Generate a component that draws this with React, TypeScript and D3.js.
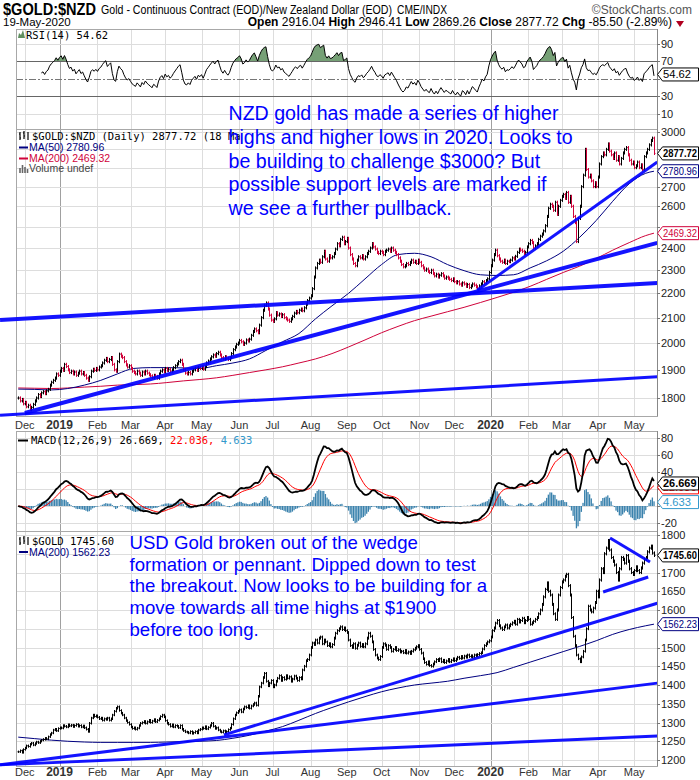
import React from "react";
import * as d3 from "d3";

// ---------- DATA ----------
const START_YEAR = 2018;
const START_MONTH = 10; // November (0-based)
const START_DAY = 27;

// $GOLD:$NZD daily closes (weekdays from 27-Nov-2018 to 19-May-2020)
const NZD_CLOSE = [
  1800, 1790, 1795, 1780, 1785, 1770, 1775, 1760, 1768, 1778,
  1790, 1800, 1812, 1805, 1818, 1822, 1815, 1825, 1830, 1845,
  1855, 1862, 1870, 1885, 1880, 1895, 1905, 1898, 1920, 1912,
  1900, 1890, 1895, 1885, 1892, 1880, 1888, 1895, 1885, 1890,
  1880, 1870, 1862, 1875, 1895, 1902, 1898, 1905, 1900, 1910,
  1915, 1925, 1935, 1942, 1930, 1938, 1945, 1920, 1900, 1895,
  1930, 1958, 1950, 1945, 1930, 1918, 1910, 1915, 1905, 1895,
  1890, 1885, 1895, 1888, 1880, 1892, 1885, 1895, 1888, 1882,
  1878, 1872, 1880, 1876, 1870, 1885, 1895, 1900, 1892, 1905,
  1898, 1902, 1895, 1900, 1908, 1915, 1922, 1930, 1935, 1920,
  1900, 1888, 1885, 1890, 1885, 1895, 1900, 1905, 1898, 1908,
  1905, 1910, 1902, 1912, 1925, 1932, 1940, 1948, 1955, 1950,
  1960, 1965, 1955, 1945, 1940, 1948, 1942, 1938, 1945, 1960,
  1975, 1985, 1995, 2000, 2010, 2005, 1995, 2000, 2012, 2008,
  2015, 2030, 2045, 2055, 2048, 2040, 2070, 2100, 2130, 2150,
  2160, 2135, 2110, 2090, 2085, 2095, 2120, 2110, 2115, 2105,
  2112, 2100, 2095, 2090, 2085, 2095, 2105, 2118, 2125, 2120,
  2130, 2135, 2128, 2140, 2155, 2170, 2180, 2190, 2220, 2270,
  2310, 2330, 2345, 2335, 2360, 2385, 2350, 2340, 2365, 2355,
  2360, 2375, 2395, 2420, 2410, 2440, 2450, 2420, 2430, 2445,
  2400, 2370, 2350, 2330, 2320, 2345, 2360, 2355, 2365, 2350,
  2360, 2375, 2385, 2400, 2420, 2405, 2395, 2380, 2375, 2385,
  2380, 2370, 2385, 2390, 2395, 2385, 2400, 2390, 2380, 2370,
  2355, 2340, 2325, 2315, 2320, 2330, 2325, 2335, 2345, 2335,
  2340, 2330, 2345, 2335, 2320, 2310, 2300, 2305, 2295, 2290,
  2300, 2285, 2275, 2282, 2270, 2278, 2285, 2275, 2265, 2270,
  2265, 2260, 2255, 2262, 2250, 2245, 2250, 2240, 2235, 2245,
  2240, 2230, 2238, 2225, 2232, 2240, 2235, 2228, 2222, 2232,
  2240, 2250, 2245, 2255, 2262, 2290, 2320, 2345, 2370, 2390,
  2365, 2350, 2340, 2335, 2345, 2330, 2340, 2338, 2345, 2355,
  2350, 2362, 2380, 2395, 2390, 2385, 2375, 2380, 2405, 2420,
  2435, 2425, 2400, 2410, 2420, 2440, 2455, 2465, 2480, 2505,
  2550, 2590, 2610, 2600, 2580, 2620, 2560, 2600, 2630, 2650,
  2660, 2640, 2670, 2620, 2650, 2600, 2550, 2520, 2430, 2540,
  2600, 2700, 2760, 2900, 2790, 2750, 2760, 2730, 2700, 2720,
  2700, 2750, 2820, 2860, 2880, 2870, 2900, 2930, 2890, 2870,
  2850, 2880, 2840, 2860, 2820, 2850, 2880, 2900, 2910, 2870,
  2840, 2820, 2830, 2800, 2810, 2830, 2800, 2815, 2790, 2860,
  2880, 2900, 2925, 2950, 2963.22, 2877.72,
];

// $GOLD (USD) daily closes, same dates
const USD_CLOSE = [
  1222, 1225, 1220, 1228, 1232, 1238, 1236, 1242, 1245, 1240,
  1244, 1248, 1246, 1250, 1253, 1255, 1258, 1256, 1262, 1268,
  1272, 1280, 1282, 1278, 1284, 1286, 1285, 1292, 1290, 1288,
  1294, 1291, 1293, 1289, 1292, 1295, 1290, 1292, 1288, 1291,
  1286, 1282, 1276, 1298, 1312, 1320, 1316, 1318, 1314, 1310,
  1312, 1306, 1310, 1308, 1312, 1306, 1310, 1320, 1330, 1338,
  1342, 1332, 1325, 1320, 1312, 1305, 1300, 1295, 1288, 1284,
  1286, 1282, 1285, 1292, 1298, 1300, 1303, 1298, 1302, 1306,
  1300, 1304, 1308, 1302, 1306, 1310, 1316, 1320, 1315, 1305,
  1298, 1295, 1290, 1294, 1288, 1292, 1290, 1286, 1292, 1282,
  1278, 1275, 1274, 1272, 1276, 1271, 1273, 1276, 1272, 1280,
  1282, 1286, 1284, 1289, 1283, 1287, 1292, 1298, 1290, 1284,
  1286, 1280, 1276, 1274, 1278, 1272, 1276, 1281, 1285, 1295,
  1310, 1320, 1326, 1330, 1334, 1328, 1336, 1342, 1340, 1345,
  1338, 1344, 1348, 1352, 1346, 1370, 1395, 1405, 1420, 1431,
  1410, 1398, 1405, 1412, 1395, 1400, 1410, 1418, 1425, 1412,
  1420, 1415, 1425, 1418, 1422, 1410, 1416, 1424, 1418, 1412,
  1420, 1416, 1440, 1450, 1465, 1468, 1480, 1500, 1512, 1508,
  1520, 1512, 1525, 1528, 1510, 1520, 1515, 1505, 1510, 1502,
  1508, 1525, 1538, 1545, 1550, 1555, 1548, 1552, 1545, 1540,
  1520, 1505, 1500, 1510, 1498, 1506, 1512, 1503, 1508, 1502,
  1510, 1525, 1538, 1530, 1515, 1495, 1480, 1472, 1468, 1476,
  1500, 1510, 1506, 1495, 1505, 1500, 1490, 1495, 1500, 1492,
  1494, 1488, 1490, 1486, 1492, 1485, 1488, 1484, 1490, 1494,
  1498, 1502, 1505, 1495, 1485, 1470, 1460, 1455, 1462, 1452,
  1450, 1456, 1462, 1468, 1465, 1470, 1462, 1466, 1460, 1464,
  1468, 1462, 1466, 1470, 1465, 1469, 1474, 1471, 1476, 1472,
  1477, 1474, 1480, 1476, 1478, 1475, 1480, 1478, 1481, 1484,
  1486, 1496, 1505, 1510, 1515, 1518, 1528, 1545, 1552, 1565,
  1572, 1558, 1552, 1548, 1555, 1560, 1552, 1558, 1562, 1566,
  1570, 1562, 1575, 1568, 1572, 1578, 1566, 1572, 1580, 1575,
  1562, 1566, 1570, 1575, 1580, 1590, 1600, 1615, 1635, 1655,
  1672, 1650, 1640, 1615, 1590, 1575, 1600, 1640, 1660, 1675,
  1680, 1690, 1695, 1665, 1640, 1580, 1530, 1505, 1480, 1470,
  1462, 1475, 1490, 1520, 1550, 1610, 1600, 1595, 1605, 1620,
  1650, 1635, 1680, 1710, 1700, 1750, 1765, 1785, 1760, 1740,
  1730, 1720, 1700, 1680, 1710, 1740, 1735, 1725, 1745, 1730,
  1710, 1700, 1695, 1705, 1715, 1705, 1700, 1712, 1725, 1735,
  1740, 1755, 1765, 1770, 1752, 1745.6,
];

// Moving averages at these day indices
const MA_SAMPLE_IDX = [
  0, 10, 20, 30, 40, 50, 60, 70, 80, 90, 100, 110, 120, 130, 140, 150, 160, 170, 180, 190,
  200, 210, 220, 230, 240, 250, 260, 270, 280, 290, 300, 310, 320, 330, 340, 350, 360, 370, 380, 385,
];
const NZD_MA50 = [
  1831, 1830, 1828, 1833, 1845, 1862, 1885, 1905, 1908, 1908, 1907, 1905, 1915, 1925, 1940, 1972, 2005, 2037, 2095, 2148,
  2200, 2262, 2325, 2370, 2376, 2360, 2325, 2298, 2280, 2277, 2280, 2310, 2342, 2385, 2450, 2530, 2625, 2715, 2770, 2780.96,
];
const NZD_MA200 = [
  1835, 1834, 1833, 1835, 1838, 1841, 1845, 1847, 1849, 1854, 1860, 1865, 1871, 1880, 1890, 1900, 1911, 1925, 1940, 1960,
  1985, 2012, 2040, 2065, 2088, 2106, 2124, 2142, 2162, 2183, 2205, 2230, 2260, 2290, 2318, 2352, 2390, 2425, 2458, 2469.32,
];
const USD_MA200 = [
  1261, 1257, 1253, 1250, 1248, 1247, 1247, 1247, 1247, 1248, 1249, 1250, 1252, 1258, 1266, 1277, 1289, 1306, 1324, 1340,
  1355, 1369, 1382, 1392, 1400, 1405, 1410, 1418, 1425, 1433, 1447, 1461, 1475, 1489, 1503, 1518, 1535, 1548, 1558, 1562.23,
];

// Hand-drawn trend lines: [dayIndex, price] start and end
const NZD_TREND_START = [[-11, 2091], [4, 1749], [278, 2213], [-11, 1741]];
const NZD_TREND_END = [[387, 2244], [387, 2424], [387, 2831], [387, 1875]];
const USD_TREND_START = [[358.4, 1792], [354.2, 1648], [124.6, 1267], [-11, 1187], [-11, 1187]];
const USD_TREND_END = [[382.6, 1728], [381.5, 1688], [387, 1618], [387, 1405], [387, 1264]];

// Axis ticks
const RSI_TICKS = [10, 30, 50, 70, 90];
const NZD_TICKS = [1800, 1900, 2000, 2100, 2200, 2300, 2400, 2500, 2600, 2700, 2800, 2900, 3000];
const MACD_TICKS = [-20, 0, 20, 40, 60, 80];
const USD_TICKS = [1200, 1250, 1300, 1350, 1400, 1450, 1500, 1550, 1600, 1650, 1700, 1750, 1800];

// Last values shown in the legends / right-hand boxes
const RSI_LAST = 54.62;
const NZD_LAST = 2877.72;
const MA50_LAST = 2780.96;
const MA200_LAST = 2469.32;
const MACD_LAST = 26.669;
const SIGNAL_LAST = 22.036;
const HIST_LAST = 4.633;
const USD_LAST = 1745.6;
const USD_MA_LAST = 1562.23;

const HEADER_STATS = [
  ["Open", "2916.04"],
  ["High", "2946.41"],
  ["Low", "2869.26"],
  ["Close", "2877.72"],
  ["Chg", "-85.50 (-2.89%)"],
];

const NZD_NOTE = [
  "NZD gold has made a series of higher",
  "highs and higher lows in 2020. Looks to",
  "be building to challenge $3000? But",
  "possible support levels are marked if",
  "we see a further pullback.",
];
const USD_NOTE = [
  "USD Gold broken out of the wedge",
  "formation or pennant. Dipped down to test",
  "the breakout. Now looks to be building for a",
  "move towards all time highs at $1900",
  "before too long.",
];

// ---------- LAYOUT / STYLE ----------
const W = 700;
const H = 780;
const X0 = 16;
const X1 = 657;
const RSI_T = 29, RSI_B = 129;
const MAIN_T = 129, MAIN_B = 416;
const MACD_T = 431, MACD_B = 531;
const USD_T = 531, USD_B = 766;
const SANS = "'Liberation Sans', Arial, sans-serif";
const MONO = "'DejaVu Sans Mono', monospace";
const BLUE = "#0000ff";
const RED = "#d0023a";
const NAVY = "#000080";
const GRID = "#dddddd";
const FRAME = "#a8a8a8";
const NZD_TREND_W = [4, 4, 3, 3];
const USD_TREND_W = [3, 3, 3, 3, 3];

export default function App() {
  const N = NZD_CLOSE.length;

  const dates: Date[] = [];
  const cur = new Date(START_YEAR, START_MONTH, START_DAY);
  while (dates.length < N) {
    const wd = cur.getDay();
    if (wd !== 0 && wd !== 6) dates.push(new Date(cur));
    cur.setDate(cur.getDate() + 1);
  }
  const monthStarts = dates
    .map((dt, i) => (i > 0 && dt.getMonth() !== dates[i - 1].getMonth() ? i : -1))
    .filter((i) => i >= 0);
  const jan19 = monthStarts.find((i) => dates[i].getFullYear() === 2019 && dates[i].getMonth() === 0) as number;
  const jan20 = monthStarts.find((i) => dates[i].getFullYear() === 2020 && dates[i].getMonth() === 0) as number;

  const xs = d3.scaleLinear().domain([jan19, jan20]).range([59.5, 490.5]);
  const yRSI = d3.scaleLinear().domain([10, 90]).range([113.5, 43.5]);
  const yMain = d3.scaleLog().domain([1800, 3000]).range([398, 131.7]);
  const yMACD = d3.scaleLinear().domain([-20, 80]).range([522.9, 438.4]);
  const yUSD = d3.scaleLinear().domain([1200, 1800]).range([760, 535]);

  // RSI(14) from closes
  const rsi: [number, number][] = [];
  let ag = 0, al = 0;
  for (let i = 1; i < N; i++) {
    const ch = NZD_CLOSE[i] - NZD_CLOSE[i - 1];
    const g = Math.max(ch, 0), l = Math.max(-ch, 0);
    if (i <= 14) { ag += g / 14; al += l / 14; }
    else { ag = (ag * 13 + g) / 14; al = (al * 13 + l) / 14; }
    if (i >= 14) rsi.push([i, al === 0 ? 100 : 100 - 100 / (1 + ag / al)]);
  }

  // MACD(12,26,9) from closes
  const macd: number[] = [], signal: number[] = [], hist: number[] = [];
  let e12 = NZD_CLOSE[0], e26 = NZD_CLOSE[0], sig = 0;
  NZD_CLOSE.forEach((c, i) => {
    if (i > 0) {
      e12 = c * (2 / 13) + e12 * (1 - 2 / 13);
      e26 = c * (2 / 27) + e26 * (1 - 2 / 27);
    }
    const m = e12 - e26;
    sig = i === 0 ? m : m * 0.2 + sig * 0.8;
    macd.push(m); signal.push(sig); hist.push(m - sig);
  });

  const barPaths = (closes: number[], ys: (v: number) => number, wick: number) => {
    let up = "", dn = "";
    closes.forEach((c, i) => {
      const o = i > 0 ? closes[i - 1] : c;
      const hi = Math.max(o, c) * (1 + wick);
      const lo = Math.min(o, c) * (1 - wick);
      const x = Math.round(xs(i)) + 0.5;
      const seg = `M${x},${ys(hi).toFixed(1)}V${ys(lo).toFixed(1)}M${x - 1},${ys(o).toFixed(1)}h1M${x},${ys(c).toFixed(1)}h1`;
      if (c >= o) up += seg; else dn += seg;
    });
    return [up, dn];
  };
  const [nzdUp, nzdDn] = barPaths(NZD_CLOSE, (v) => yMain(v), 0.003);
  const [usdUp, usdDn] = barPaths(USD_CLOSE, (v) => yUSD(v), 0.0025);

  const maLine = (vals: number[], ys: (v: number) => number) =>
    d3.line<number>().x((_, i) => xs(MA_SAMPLE_IDX[i])).y((v) => ys(v)).curve(d3.curveMonotoneX)(vals) || "";

  const rsiLine = d3.line<[number, number]>().x((d) => xs(d[0])).y((d) => yRSI(d[1]))(rsi) || "";
  const rsiAreaHi = d3.area<[number, number]>().x((d) => xs(d[0])).y0(yRSI(70)).y1((d) => yRSI(d[1]))(rsi) || "";
  const rsiAreaLo = d3.area<[number, number]>().x((d) => xs(d[0])).y0(yRSI(30)).y1((d) => yRSI(d[1]))(rsi) || "";
  const macdLine = d3.line<number>().x((_, i) => xs(i)).y((v) => yMACD(v))(macd) || "";
  const sigLine = d3.line<number>().x((_, i) => xs(i)).y((v) => yMACD(v))(signal) || "";

  const vGrid = (t: number, b: number) =>
    monthStarts.map((i) => {
      const x = Math.round(xs(i)) + 0.5;
      const isYear = dates[i].getMonth() === 0;
      return <line key={i} x1={x} x2={x} y1={t} y2={b} stroke={isYear ? "#a0a0a0" : GRID} strokeWidth={1} />;
    });

  const hGrid = (ticks: number[], ys: (v: number) => number, keyp: string) =>
    ticks.map((v) => {
      const y = Math.round(ys(v)) + 0.5;
      return <line key={keyp + v} x1={X0} x2={X1} y1={y} y2={y} stroke={GRID} />;
    });

  // tick labels hidden behind a value box are not drawn (as in the reference)
  const axisLabels = (ticks: number[], ys: (v: number) => number, boxes: number[], keyp: string) =>
    ticks.map((v) => {
      const y = ys(v);
      const hidden = boxes.some((b) => Math.abs(ys(b) - y) < 8);
      return (
        <g key={keyp + v}>
          <line x1={X1} x2={X1 + 3} y1={Math.round(y) + 0.5} y2={Math.round(y) + 0.5} stroke="#777" />
          {!hidden && <text x={661} y={y + 4} fontSize={11} fontFamily={SANS} fill="#222">{v}</text>}
        </g>
      );
    });

  const monthLabels = (y: number, keyp: string) =>
    monthStarts.map((i) => {
      const dt = dates[i];
      const isYear = dt.getMonth() === 0;
      return (
        <text key={keyp + i} x={xs(i)} y={y} textAnchor="middle" fontFamily={SANS}
          fontSize={isYear ? 12 : 11} fontWeight={isYear ? "bold" : "normal"} fill="#333">
          {isYear ? String(dt.getFullYear()) : d3.timeFormat("%b")(dt)}
        </text>
      );
    });

  const valueBox = (y: number, text: string, color: string, bold: boolean, key: string) => (
    <g key={key}>
      <path d={`M${X1 + 0.5},${y} L${X1 + 5.5},${y - 6.5} H698.5 V${y + 6.5} H${X1 + 5.5} Z`} fill="#fff" stroke={color} strokeWidth={1} />
      <text x={663} y={y + 4} fontSize={10.5} fontFamily={SANS} fontWeight={bold ? "bold" : "normal"} fill={color}
        textLength={text.length >= 7 ? 34 : text.length * 5.6} lengthAdjust="spacingAndGlyphs">{text}</text>
    </g>
  );

  const trend = (a: number[][], b: number[][], w: number[], ys: (v: number) => number, keyp: string) =>
    a.map((p, k) => (
      <line key={keyp + k} x1={xs(p[0])} y1={ys(p[1])} x2={xs(b[k][0])} y2={ys(b[k][1])}
        stroke={BLUE} strokeWidth={w[k]} strokeOpacity={0.92} />
    ));

  const histBars = hist.map((h, i) => {
    const y0 = yMACD(0), y1 = yMACD(h);
    return <rect key={"h" + i} x={xs(i) - 0.6} width={1.3} y={Math.min(y0, y1)} height={Math.abs(y1 - y0)} fill="#3a82ad" />;
  });

  return (
    <svg width={W} height={H} viewBox={`0 0 ${W} ${H}`} style={{ position: "absolute", left: 0, top: 0, background: "#fff" }}>
      <defs>
        <clipPath id="cRSI"><rect x={X0} y={RSI_T} width={X1 - X0} height={RSI_B - RSI_T} /></clipPath>
        <clipPath id="cRSIhi"><rect x={X0} y={RSI_T} width={X1 - X0} height={yRSI(70) - RSI_T} /></clipPath>
        <clipPath id="cRSIlo"><rect x={X0} y={yRSI(30)} width={X1 - X0} height={RSI_B - yRSI(30)} /></clipPath>
        <clipPath id="cMain"><rect x={X0} y={MAIN_T} width={X1 - X0} height={MAIN_B - MAIN_T} /></clipPath>
        <clipPath id="cMACD"><rect x={X0} y={MACD_T} width={X1 - X0} height={MACD_B - MACD_T} /></clipPath>
        <clipPath id="cUSD"><rect x={X0} y={USD_T} width={X1 - X0} height={USD_B - USD_T} /></clipPath>
      </defs>
      <rect x={0} y={0} width={W} height={H} fill="#fff" />

      {/* Header */}
      <text x={3} y={15} fontFamily={SANS} fontWeight="bold" fontSize={16} textLength={93} lengthAdjust="spacingAndGlyphs">$GOLD:$NZD</text>
      <text x={101} y={14} fontFamily={SANS} fontSize={12} textLength={291} lengthAdjust="spacingAndGlyphs">Gold - Continuous Contract (EOD)/New Zealand Dollar (EOD)</text>
      <text x={397} y={14} fontFamily={SANS} fontSize={12} textLength={50} lengthAdjust="spacingAndGlyphs">CME/INDX</text>
      <text x={692} y={14} textAnchor="end" fontFamily={SANS} fontSize={12} fill="#555">©StockCharts.com</text>
      <text x={3} y={26} fontFamily={SANS} fontSize={11.5}>19-May-2020</text>
      <text x={672} y={26} textAnchor="end" fontFamily={SANS} fontSize={12}>
        {HEADER_STATS.map(([k, v], i) => (
          <React.Fragment key={k}>
            <tspan fontWeight="bold">{(i > 0 ? " " : "") + k}</tspan>
            <tspan>{" " + v}</tspan>
          </React.Fragment>
        ))}
      </text>
      <path d="M676,21 L684,21 L680,27 Z" fill="#b00020" />

      {/* ---------- RSI panel ---------- */}
      {vGrid(RSI_T, RSI_B)}
      {[90, 10].map((v) => (
        <line key={"rg" + v} x1={X0} x2={X1} y1={Math.round(yRSI(v)) + 0.5} y2={Math.round(yRSI(v)) + 0.5} stroke={GRID} />
      ))}
      {[70, 30].map((v) => (
        <line key={"rl" + v} x1={X0} x2={X1} y1={Math.round(yRSI(v)) + 0.5} y2={Math.round(yRSI(v)) + 0.5} stroke="#666" />
      ))}
      <line x1={X0} x2={X1} y1={Math.round(yRSI(50)) + 0.5} y2={Math.round(yRSI(50)) + 0.5} stroke="#777" strokeDasharray="7,2,2,2" />
      <g clipPath="url(#cRSIhi)"><path d={rsiAreaHi} fill="#76a076" /></g>
      <g clipPath="url(#cRSIlo)"><path d={rsiAreaLo} fill="#76a076" /></g>
      <g clipPath="url(#cRSI)"><path d={rsiLine} fill="none" stroke="#000" strokeWidth={1} /></g>
      <rect x={X0 + 0.5} y={RSI_T + 0.5} width={X1 - X0} height={RSI_B - RSI_T} fill="none" stroke={FRAME} />
      <path d="M18,38 L19,33 L21,35 L23,30 L25,38 Z" fill="#5f8f5f" />
      <text x={26} y={39} fontFamily={MONO} fontSize={10.5}>RSI(14) {RSI_LAST.toFixed(2)}</text>

      {/* ---------- Main NZD panel ---------- */}
      {vGrid(MAIN_T, MAIN_B)}
      {hGrid(NZD_TICKS, yMain, "mg")}
      <g clipPath="url(#cMain)">
        <path d={maLine(NZD_MA200, yMain)} fill="none" stroke={RED} strokeWidth={1} />
        <path d={maLine(NZD_MA50, yMain)} fill="none" stroke={NAVY} strokeWidth={1} />
        <path d={nzdUp} fill="none" stroke="#000" strokeWidth={1} />
        <path d={nzdDn} fill="none" stroke={RED} strokeWidth={1} />
      </g>
      <rect x={X0 + 0.5} y={MAIN_T + 0.5} width={X1 - X0} height={MAIN_B - MAIN_T} fill="none" stroke={FRAME} />
      {trend(NZD_TREND_START, NZD_TREND_END, NZD_TREND_W, yMain, "nt")}
      <path d="M20,132 V140 M19,134 H20 M20,138 H21 M24,131 V139 M23,133 H24 M24,136 H25 M28,132 V140" stroke="#000" strokeWidth={1.2} fill="none" />
      <text x={32} y={140} fontFamily={MONO} fontSize={10.5}>$GOLD:$NZD (Daily) {NZD_LAST.toFixed(2)} (18 Ma</text>
      <line x1={19} x2={28} y1={147.5} y2={147.5} stroke={NAVY} strokeWidth={2} />
      <text x={29} y={151} fontFamily={SANS} fontSize={10.5} fill={NAVY}>MA(50) {MA50_LAST.toFixed(2)}</text>
      <line x1={19} x2={28} y1={158.5} y2={158.5} stroke={RED} strokeWidth={2} />
      <text x={29} y={162} fontFamily={SANS} fontSize={10.5} fill={RED}>MA(200) {MA200_LAST.toFixed(2)}</text>
      <path d="M20,173 V168 M22.5,173 V165 M25,173 V167 M27.5,173 V169" stroke="#666" strokeWidth={1.6} />
      <text x={29} y={172} fontFamily={SANS} fontSize={10.5} fill="#444">Volume undef</text>
      {NZD_NOTE.map((t, i) => (
        <text key={"nn" + i} x={228.5} y={120 + i * 23.8} fontFamily={SANS} fontSize={19.6} fill={BLUE}>{t}</text>
      ))}
      {monthLabels(429, "ml")}

      {/* ---------- MACD panel ---------- */}
      {vGrid(MACD_T, MACD_B)}
      {hGrid(MACD_TICKS, yMACD, "cg")}
      <g clipPath="url(#cMACD)">
        {histBars}
        <path d={sigLine} fill="none" stroke="#ff0000" strokeWidth={1} />
        <path d={macdLine} fill="none" stroke="#000" strokeWidth={1.8} />
      </g>
      <rect x={X0 + 0.5} y={MACD_T + 0.5} width={X1 - X0} height={MACD_B - MACD_T} fill="none" stroke={FRAME} />
      <line x1={18} x2={28} y1={440.5} y2={440.5} stroke="#000" strokeWidth={2} />
      <text x={31} y={444} fontFamily={MONO} fontSize={10.5}>
        <tspan>MACD(12,26,9) {MACD_LAST.toFixed(3)},</tspan>
        <tspan fill="#ff0000"> {SIGNAL_LAST.toFixed(3)},</tspan>
        <tspan fill="#3399cc"> {HIST_LAST.toFixed(3)}</tspan>
      </text>

      {/* ---------- USD panel ---------- */}
      {vGrid(USD_T, USD_B)}
      {hGrid(USD_TICKS, yUSD, "ug")}
      <g clipPath="url(#cUSD)">
        <path d={maLine(USD_MA200, yUSD)} fill="none" stroke={NAVY} strokeWidth={1} />
        <path d={usdUp} fill="none" stroke="#000" strokeWidth={1} />
        <path d={usdDn} fill="none" stroke="#000" strokeWidth={1} />
      </g>
      <rect x={X0 + 0.5} y={USD_T + 0.5} width={X1 - X0} height={USD_B - USD_T} fill="none" stroke={FRAME} />
      {trend(USD_TREND_START, USD_TREND_END, USD_TREND_W, yUSD, "ut")}
      <path d="M20,537 V545 M19,539 H20 M20,543 H21 M24,536 V544 M23,538 H24 M24,541 H25 M28,537 V545" stroke="#000" strokeWidth={1.2} fill="none" />
      <text x={32} y={545} fontFamily={MONO} fontSize={10.5}>$GOLD {USD_LAST.toFixed(2)}</text>
      <line x1={19} x2={28} y1={552} y2={552} stroke={NAVY} strokeWidth={2} />
      <text x={29} y={556} fontFamily={SANS} fontSize={10.5} fill={NAVY}>MA(200) {USD_MA_LAST.toFixed(2)}</text>
      {USD_NOTE.map((t, i) => (
        <text key={"un" + i} x={129.5} y={549 + i * 21.7} fontFamily={SANS} fontSize={18.6} fill={BLUE}>{t}</text>
      ))}
      {monthLabels(776, "bl")}

      {/* Right axes */}
      <line x1={X1 + 0.5} x2={X1 + 0.5} y1={RSI_T} y2={MAIN_B} stroke="#888" />
      <line x1={X1 + 0.5} x2={X1 + 0.5} y1={MACD_T} y2={USD_B} stroke="#888" />
      {axisLabels(RSI_TICKS, yRSI, [RSI_LAST], "ra")}
      {axisLabels(NZD_TICKS, yMain, [NZD_LAST, MA50_LAST, MA200_LAST], "ma")}
      {axisLabels(MACD_TICKS, yMACD, [MACD_LAST, SIGNAL_LAST, HIST_LAST], "ca")}
      {axisLabels(USD_TICKS, yUSD, [USD_LAST, USD_MA_LAST], "ua")}

      {/* Value boxes */}
      {valueBox(yRSI(RSI_LAST), RSI_LAST.toFixed(2), "#000", false, "vb1")}
      {valueBox(yMain(MA200_LAST), MA200_LAST.toFixed(2), RED, false, "vb2")}
      {valueBox(yMain(MA50_LAST), MA50_LAST.toFixed(2), NAVY, false, "vb3")}
      {valueBox(yMain(NZD_LAST), NZD_LAST.toFixed(2), "#000", true, "vb4")}
      {valueBox(yMACD(HIST_LAST), HIST_LAST.toFixed(3), "#3399cc", false, "vb5")}
      {valueBox(yMACD(SIGNAL_LAST), SIGNAL_LAST.toFixed(3), "#ff0000", false, "vb6")}
      {valueBox(yMACD(MACD_LAST), MACD_LAST.toFixed(3), "#000", true, "vb7")}
      {valueBox(yUSD(USD_MA_LAST), USD_MA_LAST.toFixed(2), NAVY, false, "vb8")}
      {valueBox(yUSD(USD_LAST), USD_LAST.toFixed(2), "#000", true, "vb9")}
    </svg>
  );
}
